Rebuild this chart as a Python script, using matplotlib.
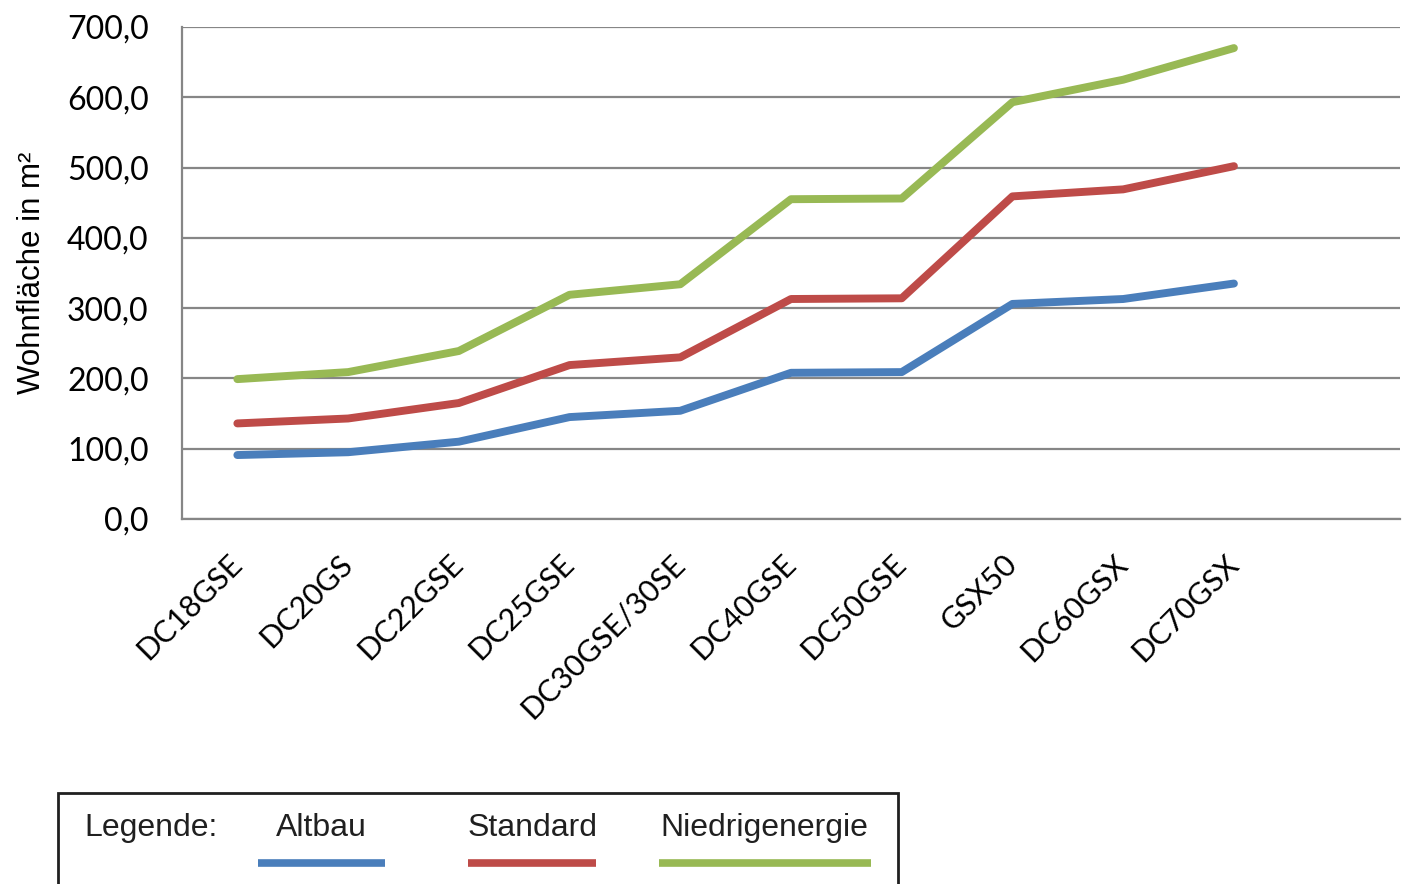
import matplotlib.pyplot as plt
from matplotlib.lines import Line2D
from matplotlib.patches import Rectangle
from matplotlib.ticker import FuncFormatter, MultipleLocator

MODELS = ["DC18GSE", "DC20GS", "DC22GSE", "DC25GSE", "DC30GSE/30SE",
          "DC40GSE", "DC50GSE", "GSX50", "DC60GSX", "DC70GSX"]
ALTBAU = [91, 95, 110, 145, 154, 208, 209, 306, 313, 335]
STANDARD = [136, 143, 165, 219, 230, 313, 314, 459, 469, 502]
NIEDRIGENERGIE = [199, 209, 239, 319, 334, 455, 456, 593, 625, 670]

SERIES = [
    ("Altbau", ALTBAU, "#4A7EBB"),
    ("Standard", STANDARD, "#BE4B48"),
    ("Niedrigenergie", NIEDRIGENERGIE, "#98B954"),
]

GRID = "#868686"

plt.rcParams["font.family"] = ["Lato", "DejaVu Sans"]

fig = plt.figure(figsize=(14.08, 8.84), dpi=100)
ax = fig.add_axes([182 / 1408, 1 - 519 / 884, 1218 / 1408, 492 / 884])

x = list(range(len(MODELS)))
for name, values, color in SERIES:
    ax.plot(x, values, color=color, linewidth=5.7, solid_capstyle="round",
            solid_joinstyle="round", zorder=3)

ax.set_xlim(-0.5, len(MODELS) + 0.5)
ax.set_ylim(0, 700)
ax.yaxis.set_major_locator(MultipleLocator(100))
ax.yaxis.set_major_formatter(FuncFormatter(lambda v, _: f"{v:.1f}".replace(".", ",")))
ax.grid(axis="y", color=GRID, linewidth=1.6)
ax.set_axisbelow(True)

for side in ("top", "right"):
    ax.spines[side].set_visible(False)
for side in ("left", "bottom"):
    ax.spines[side].set_color(GRID)
    ax.spines[side].set_linewidth(1.6)

ax.set_xticks(x)
ax.set_xticklabels(MODELS, rotation=45, ha="right", va="center",
                   rotation_mode="anchor", fontsize=22)
ax.tick_params(axis="x", length=0, pad=29)
ax.tick_params(axis="y", length=0, pad=24, labelsize=23)
ax.set_ylabel("Wohnfläche in m²", family="Liberation Sans", fontsize=22.5,
              labelpad=14)

# legend box at the bottom, cut off by the figure edge
W, H = 1408, 884
fig.add_artist(Rectangle((58 / W, -0.05), 840 / W, 0.05 + (H - 793) / H,
                         transform=fig.transFigure, fill=False,
                         edgecolor="#202020", linewidth=2))
legend_font = dict(family="Liberation Sans", fontsize=23, color="#202020",
                   va="center", ha="left")
fig.text(84 / W, 1 - 828 / H, "Legende:", **legend_font)
label_x = [276, 468, 660]
line_x = [(258, 385), (468, 596), (659, 871)]
for (name, _values, color), lx, (x0, x1) in zip(SERIES, label_x, line_x):
    fig.text(lx / W, 1 - 828 / H, name, **legend_font)
    fig.add_artist(Line2D([x0 / W, x1 / W], [1 - 863 / H, 1 - 863 / H],
                          transform=fig.transFigure, color=color,
                          linewidth=5.5, solid_capstyle="butt"))

fig.savefig("out.png", dpi=100)
